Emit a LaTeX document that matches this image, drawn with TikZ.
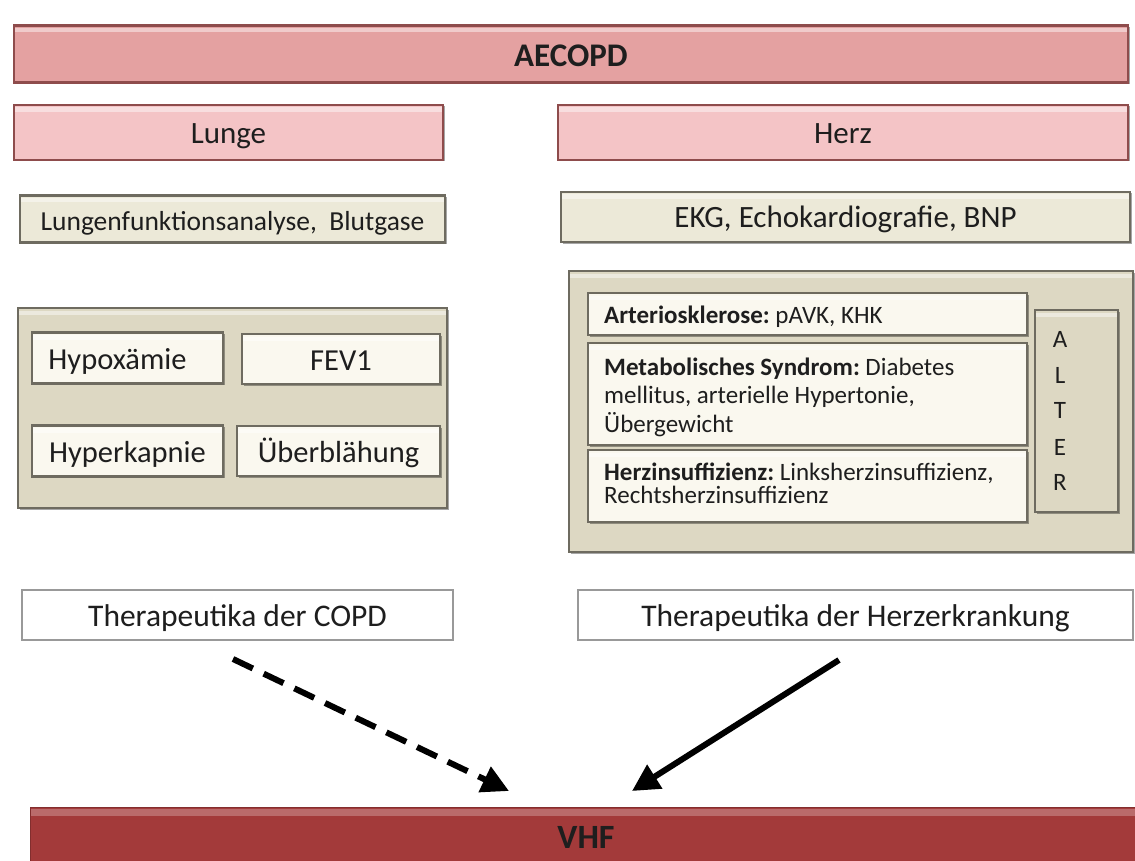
\documentclass[tikz,border=0pt]{standalone}
\usepackage{fontspec}
\setmainfont{Carlito}
\frenchspacing
\usetikzlibrary{arrows.meta,shadows}
\definecolor{aefill}{HTML}{E4A1A1}
\definecolor{aedraw}{HTML}{8E4C4C}
\definecolor{pkfill}{HTML}{F4C4C6}
\definecolor{bgfill}{HTML}{ECE9D8}
\definecolor{bigfill}{HTML}{DDD8C3}
\definecolor{crfill}{HTML}{FAF8EF}
\definecolor{bgdraw}{HTML}{6E6B60}
\definecolor{vhffill}{HTML}{A33A3A}
\definecolor{txt}{HTML}{1E1E1E}
\tikzset{
  base/.style={rectangle, inner sep=0pt, line width=2.2pt, text=txt, align=center,
    text height=28pt, text depth=6pt,
    path picture={\fill[white,opacity=0.45] ([yshift=-2.5pt]path picture bounding box.north west) rectangle ([yshift=-7pt]path picture bounding box.north east);},
    drop shadow={shadow xshift=1.5pt, shadow yshift=-1.5pt, opacity=0.35, fill=black}},
  redbox/.style={base, fill=aefill, draw=aedraw, text height=31pt, font=\fontsize{33}{38}\selectfont\bfseries},
  pinkbox/.style={base, fill=pkfill, draw=aedraw, font=\fontsize{31}{36}\selectfont},
  beigebox/.style={base, fill=bgfill, draw=bgdraw, font=\fontsize{31}{36}\selectfont},
  bigbox/.style={base, fill=bigfill, draw=bgdraw},
  inbox/.style={base, fill=crfill, draw=bgdraw, font=\fontsize{30.5}{36}\selectfont},
  panel/.style={base, fill=crfill, draw=bgdraw},
  line/.style={anchor=base west, inner sep=0pt, text=txt, font=\fontsize{25}{28}\selectfont},
  letter/.style={anchor=base, inner sep=0pt, text=txt, font=\fontsize{25}{28}\selectfont},
  whitebox/.style={rectangle, fill=white, draw=gray!80, line width=1.8pt, text=txt,
    text height=28pt, text depth=6pt, font=\fontsize{31.5}{36}\selectfont},
  vhfbox/.style={rectangle, fill=vhffill, draw=vhffill!80!black, line width=1pt, text=txt,
    font=\fontsize{34}{38}\selectfont\bfseries},
  arr/.style={line width=6pt, -{Triangle[length=27pt,width=27pt]}, black},
}
\begin{document}
\begin{tikzpicture}[x=1pt,y=-1pt]
\useasboundingbox (0,0) rectangle (1135,861);
\fill[white] (0,0) rectangle (1135,861);
% top
\node[redbox, minimum width=1114pt, minimum height=57pt] (aecopd) at (571,54) {AECOPD};
\node[pinkbox, minimum width=429pt, minimum height=55pt] (lunge) at (228.5,132.5) {Lunge};
\node[pinkbox, minimum width=570pt, minimum height=55pt] (herz) at (843,132.5) {Herz};
\node[beigebox, minimum width=425pt, minimum height=47pt, font=\fontsize{27.5}{32}\selectfont] (lfa) at (232.5,219) {Lungenfunktionsanalyse,\ \ Blutgase};
\node[beigebox, minimum width=569pt, minimum height=50pt] (ekg) at (845.5,217) {EKG, Echokardiografie, BNP};
% left group
\node[bigbox, minimum width=429pt, minimum height=200pt] (lgroup) at (232.5,408) {};
\node[inbox, minimum width=191pt, minimum height=51pt] (hypox) at (127.5,358) {\hspace*{-20pt}Hypoxämie};
\node[inbox, minimum width=198pt, minimum height=50pt] (fev) at (341,359) {FEV1};
\node[inbox, minimum width=191pt, minimum height=51pt] (hyperk) at (127.5,451) {Hyperkapnie};
\node[inbox, minimum width=203pt, minimum height=50pt] (ueber) at (338.5,451) {Überblähung};
% right group
\node[bigbox, minimum width=564pt, minimum height=281pt] (rgroup) at (851,411.5) {};
\node[panel, minimum width=439pt, minimum height=42pt] (arter) at (807.5,314) {};
\node[panel, minimum width=439pt, minimum height=102pt] (metab) at (807.5,394) {};
\node[panel, minimum width=439pt, minimum height=72pt] (herzins) at (807.5,486) {};
\node[line] (arter1) at (604,323) {\textbf{Arteriosklerose:} pAVK, KHK};
\node[line] (metab1) at (604,375) {\textbf{Metabolisches Syndrom:} Diabetes};
\node[line] (metab2) at (604,403.5) {mellitus, arterielle Hypertonie,};
\node[line] (metab3) at (604,432) {Übergewicht};
\node[line] (herzins1) at (604,480) {\textbf{Herzinsuffizienz:} Linksherzinsuffizienz,};
\node[line] (herzins2) at (604,503.5) {Rechtsherzinsuffizienz};
\node[bigbox, minimum width=83pt, minimum height=202pt] (alter) at (1076.5,411) {};
\node[letter] (alA) at (1060,347) {A};
\node[letter] (alL) at (1060,383) {L};
\node[letter] (alT) at (1060,418) {T};
\node[letter] (alE) at (1060,455) {E};
\node[letter] (alR) at (1060,490) {R};
% therapy
\node[whitebox, minimum width=431pt, minimum height=50pt] (thcopd) at (237.5,615) {Therapeutika der COPD};
\node[whitebox, minimum width=555pt, minimum height=50pt] (thherz) at (855.5,615) {Therapeutika der Herzerkrankung};
% VHF
\node[vhfbox, minimum width=1115pt, minimum height=62pt, anchor=north west] (vhf) at (30,807) {};
\fill[white, opacity=0.25] (31,809) rectangle (1140,816);
\node[vhfbox, draw=none, fill=none, anchor=base, inner sep=0pt] (vhftext) at (586,848) {VHF};
% arrows
\coordinate (d1) at (233,659);
\coordinate (d2) at (509,791);
\coordinate (s1) at (839,660);
\coordinate (s2) at (632,791);
\draw[arr, dash pattern=on 22pt off 12pt] (d1) -- (d2);
\draw[arr] (s1) -- (s2);
\end{tikzpicture}
\end{document}
